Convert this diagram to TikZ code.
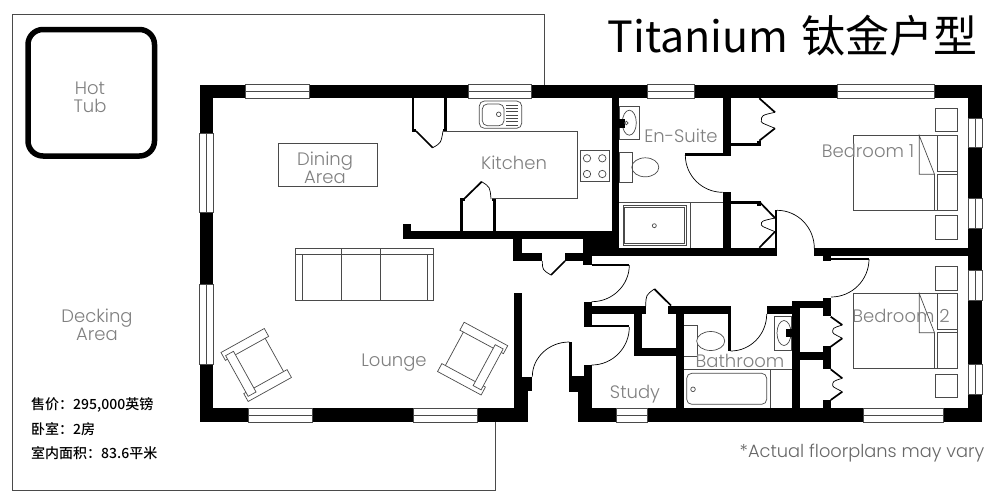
\documentclass[tikz,border=0pt]{standalone}
\usepackage{fontspec}
\setmainfont{Noto Sans CJK SC}
\newfontfamily\lblf{Poppins Light}
\newfontfamily\infof{Noto Sans CJK SC Medium}
\usetikzlibrary{calc}
\definecolor{lblgray}{HTML}{808080}
\definecolor{linegray}{HTML}{4A4A4A}
\tikzset{
  fine/.style={draw=linegray,line width=0.7pt},
  thin line/.style={draw=black,line width=0.7pt},
  heavy/.style={draw=black,line width=1.7pt},
  label text/.style={text=lblgray,font=\lblf\fontsize{18}{18}\selectfont,align=center,inner sep=0pt},
  one line/.style={label text,anchor=base},
  note text/.style={one line,text=lblgray!80!black,font=\lblf\fontsize{17.8}{18}\selectfont},
  info text/.style={text=black,font=\infof\fontsize{14}{14}\selectfont,anchor=base west,inner sep=0pt},
}
% black wall rectangle
\newcommand{\wl}[4]{\fill[black] (#1,#2) rectangle (#3,#4);}
% horizontal window x1 x2 ytop ybot
\newcommand{\hwin}[4]{\fill[white] (#1,#3) rectangle (#2,#4);
  \draw[fine] (#1,#3) rectangle (#2,#4);
  \draw[fine] (#1,{(#3+#4)/2}) -- (#2,{(#3+#4)/2});}
% vertical window y1 y2 xleft xright
\newcommand{\vwin}[4]{\fill[white] (#3,#1) rectangle (#4,#2);
  \draw[fine] (#3,#1) rectangle (#4,#2);
  \draw[fine] ({(#3+#4)/2},#1) -- ({(#3+#4)/2},#2);}
% quarter-circle door swing: start, corner, end
\newcommand{\qarc}[6]{\draw[thin line] (#1,#2) .. controls ($(#1,#2)!0.5523!(#3,#4)$) and ($(#5,#6)!0.5523!(#3,#4)$) .. (#5,#6);}
% bifold wardrobe: x0 x1 and five y values
\newcommand{\bifold}[7]{
  \draw[heavy] (#1,#3) -- (#2,#4);
  \draw[thin line] (#2,#4) .. controls ({#1+2},{#4+3}) .. ({#1+2},#5) .. controls ({#1+2},{#5+1}) .. (#2,#6);
  \draw[heavy] (#2,#6) -- (#1,#7);}
% armchair, local frame
\newcommand{\armchair}[4]{
\begin{scope}[shift={(#1,#2)},rotate=#3,xscale=#4]
  \draw[fine,fill=white] (0,0) rectangle (49.5,9);
  \draw[fine,fill=white] (0,47) rectangle (49.5,56);
  \draw[fine] (45.5,9) -- (45.5,47);
  \draw[fine,fill=white] (2.5,5) rectangle (11.5,51.5);
\end{scope}}
% bed
\newcommand{\bed}[6]{% ytop ymid1 ymid2 ybot stand1 stand2
  \draw[fine] (853.3,#1) rectangle (957.7,#4);
  \draw[fine] (937.3,#1) rectangle (957.7,#2);
  \draw[fine] (937.3,#3) rectangle (957.7,#4);
  \draw[fine] (934.5,#3) -- (934.5,#4);
  \draw[fine] (919.3,#1) -- (919.3,#3) -- (934.5,#3) -- cycle;
  \draw[fine] (935,#5) rectangle (957.7,{#5+23.3});
  \draw[fine] (935,#6) rectangle (957.7,{#6+23.3});
}
\begin{document}
\begin{tikzpicture}[x=1pt,y=-1pt]
\useasboundingbox (0,0) rectangle (1000,501);
\fill[white] (0,0) rectangle (1000,501);

% decking outline
\draw[draw=linegray,line width=1pt] (544,85) -- (544,14) -- (12,14) -- (12,490) -- (495,490) -- (495,422);
% hot tub
\draw[black,line width=5.5pt,rounded corners=15pt] (28,29.5) rectangle (154.5,156);

% outer walls
\wl{199.5}{84.5}{982}{98.3}
\wl{199.5}{84.5}{213}{422.3}
\wl{968}{84.5}{982}{422.3}
\wl{199.5}{408.3}{527.7}{422.3}
\wl{578}{408.3}{982}{422.3}
\wl{514.3}{293.3}{522.3}{408.3}
\wl{514.3}{376.7}{527.7}{422.3}
\wl{522.3}{376.7}{532.3}{391}
% entrance jamb
\wl{569.3}{375.7}{591.7}{391.7}
\wl{578}{375.7}{591.7}{422.3}
\wl{584}{365}{591.7}{422.3}
\wl{569.3}{342}{572}{376}
% kitchen south wall, stub
\wl{402.7}{231}{619.3}{239.3}
\wl{402.7}{224}{411}{239.3}
% closet and central block
\wl{513.3}{231}{522.3}{261}
\wl{513.3}{253.3}{542.3}{261}
\wl{565}{253.3}{591.7}{261}
\wl{583.3}{231}{619.3}{256}
\wl{583.3}{231}{591.7}{265}
\wl{591.7}{263.7}{629.3}{266}
% en-suite walls
\wl{611.7}{98.3}{619.3}{256}
\wl{722.7}{98.3}{730.7}{155.7}
\wl{685.3}{153.3}{730.7}{155.7}
\wl{722.7}{192.3}{730.7}{256}
\wl{583.3}{248}{775.7}{256}
\wl{775}{210}{777.3}{256}
\wl{730.7}{143.3}{761}{145.7}
\wl{757}{140.7}{761}{145.7}
\wl{730.7}{201}{761}{203.5}
\wl{757}{201}{761}{206}
% bedroom divide
\wl{814.3}{248.3}{982}{256}
\wl{823.3}{256}{830.7}{260.5}
\wl{830.7}{258.3}{869}{260}
% hall / study walls
\wl{584}{301.7}{591.7}{327.3}
\wl{591.7}{306}{646}{314}
\wl{591.7}{325}{629.3}{327.3}
\wl{634.3}{306}{642.3}{355.7}
\wl{634.3}{347.7}{675.7}{355.7}
\wl{668.3}{306}{729}{314}
\wl{675.7}{306}{683.7}{408.3}
\wl{727.7}{306}{730.7}{351}
\wl{766.7}{306}{800}{314}
\wl{791.7}{300.7}{800}{408.3}
\wl{791.7}{300.7}{822.7}{308.3}
\wl{822.7}{297.7}{830.7}{316}
\wl{800}{352.3}{822.7}{360}
\wl{822.7}{346}{830.7}{369.3}
\wl{822.7}{400}{830.7}{408.3}
% pantry and kitchen door jambs
\wl{411.7}{98.3}{414.2}{131}
\wl{411.7}{129}{416}{131.5}
\wl{444.3}{98.3}{446.8}{131}
\wl{442.5}{129}{446.8}{131.5}
\wl{460.3}{199}{462.8}{231}
\wl{460.3}{198}{464.5}{200.5}
\wl{493.3}{199}{495.8}{231}
\wl{491.5}{198}{495.8}{200.5}

% windows
\hwin{245}{309.3}{84.5}{98.3}
\hwin{468.7}{531.7}{84.5}{98.3}
\hwin{647.7}{694.7}{84.5}{98.3}
\hwin{837}{934}{84.5}{98.3}
\hwin{248.3}{312}{408.3}{422.3}
\hwin{413.3}{477.3}{408.3}{422.3}
\hwin{616.3}{647}{408.3}{422.3}
\hwin{863.3}{943.7}{408.3}{422.3}
\vwin{133.7}{212.7}{199.5}{213}
\vwin{284.3}{364.3}{199.5}{213}
\vwin{118.3}{147.7}{968}{982}
\vwin{198.3}{228.3}{968}{982}
\vwin{270}{300}{968}{982}
\vwin{364}{394}{968}{982}

% door swings
\qarc{685.3}{155}{685.3}{192.3}{722.7}{192.3}
\qarc{777}{210.3}{814.3}{210.3}{814.3}{248.3}
\qarc{869}{259}{869}{297}{831}{297}
\qarc{629.3}{265}{629.3}{301.7}{591.7}{301.7}
\qarc{629.3}{327}{629.3}{365}{591.7}{365}
\qarc{569.3}{342}{532.3}{342}{532.3}{376.7}
\qarc{730.7}{351}{766.7}{351}{766.7}{314}
% small doors
\draw[heavy] (551,275) -- (565,261);
\draw[thin line] (542.3,261) .. controls (542.5,270) .. (551,275);
\draw[heavy] (654.3,289) -- (671,305.5);
\draw[thin line] (654.3,289) .. controls (646,295) .. (645.7,306);
\draw[heavy] (416,131) -- (432.7,147.7);
\draw[thin line] (432.7,147.7) .. controls (441,143) .. (443,131);
\draw[heavy] (464,199) -- (481.7,181.7);
\draw[thin line] (481.7,181.7) .. controls (490,187) .. (491,199);
% wardrobes
\bifold{759.3}{775}{98.3}{112.3}{121.7}{128.3}{140.7}
\bifold{759.3}{775}{201.7}{218}{225}{231.7}{247.7}
\bifold{830.7}{842.3}{316.7}{325}{332.3}{338.3}{346.7}
\bifold{830.7}{842.3}{369.3}{378.3}{385.7}{391.7}{400}

% kitchen counter, stove, sink
\draw[fine] (443.3,131.3) -- (577.7,131.3) -- (577.7,198.3) -- (491.7,198.3);
\draw[fine] (580,150.7) rectangle (609,181.7);
\foreach \px in {587,602.3}\foreach \py in {158.3,174}{\draw[fine] (\px,\py) circle[radius=3.7pt];}
\draw[fine,rounded corners=5pt] (479.3,101) rectangle (521.7,128.3);
\draw[fine,rounded corners=5pt] (482.3,104) rectangle (504,125.7);
\draw[fine] (498.7,114.3) circle[radius=2.3pt];
\foreach \py in {105,108.3,111.7,115,118.3,121.7,125}{\draw[fine] (506,\py) -- (518.3,\py);}
% dining table
\draw[fine] (278.3,143.7) rectangle (377,186.7);
% sofa
\draw[fine] (295.7,248.3) rectangle (433.7,300);
\draw[fine] (295.7,254.3) -- (433.7,254.3);
\draw[fine] (302.7,254.3) -- (302.7,300);
\draw[fine] (427.7,254.3) -- (427.7,300);
\draw[fine] (341.7,248.3) -- (341.7,300);
\draw[fine] (380.3,248.3) -- (380.3,300);
% armchairs
\armchair{221}{352.5}{29}{1}
\armchair{507.7}{345.7}{-28.3}{-1}

% en-suite fixtures
\draw[fine] (619.3,106) rectangle (639.3,139.3);
\draw[fine] (629.3,122.7) ellipse[x radius=7pt,y radius=12.5pt];
\wl{619.3}{118.5}{624.5}{127.5}
\draw[fine,fill=white] (626.3,123) circle[radius=1.8pt];
\draw[fine] (619.3,152.3) rectangle (632.3,182.3);
\draw[fine] (645.3,167.3) ellipse[x radius=13.5pt,y radius=9.5pt];
\draw[fine] (619.3,202.3) -- (722.7,202.3);
\draw[fine] (690.7,202.3) -- (690.7,248);
\draw[fine] (623.3,205.7) rectangle (686,245);
\draw[fine] (624.8,207.2) rectangle (684.5,243.5);
\draw[fine] (654.3,225.7) circle[radius=2pt];

% bathroom fixtures
\draw[fine] (683.7,325.7) -- (697.3,325.7) -- (697.3,356) -- (683.7,356);
\draw[fine,fill=white] (710.7,341) ellipse[x radius=14pt,y radius=9.5pt];
\draw[fine] (683.7,369.3) -- (791.7,369.3);
\draw[fine,rounded corners=5pt] (686.7,373.3) rectangle (766.7,404.3);
\draw[fine] (693,389.3) circle[radius=2.3pt];
\draw[fine] (770,369.3) -- (770,408.3);
\draw[fine] (774.3,316.7) rectangle (791.7,350);
\draw[fine] (784,333) ellipse[x radius=7pt,y radius=12.5pt];
\wl{786}{329}{791.7}{337}

% beds
\bed{135.7}{171.7}{174.3}{210.7}{108.3}{215.7}
\bed{293.7}{329}{332.7}{368.3}{266.7}{374}

% labels
\node[label text] (hottub) at (90,97) {Hot\\[0pt]Tub};
\node[label text] (deck) at (97,324.5) {Decking\\[0pt]Area};
\node[label text] (dining) at (325,167.5) {Dining\\[0pt]Area};
\node[one line] (kitchen) at (514,169) {Kitchen};
\node[one line] (ensuite) at (681,142.5) {En-Suite};
\node[one line] (bed1) at (868,157.5) {Bedroom 1};
\node[one line] (bed2) at (901,322.5) {Bedroom 2};
\node[one line] (lounge) at (394,366.8) {Lounge};
\node[one line] (bath) at (740,367.5) {Bathroom};
\node[one line] (study) at (635,398.5) {Study};
\node[note text] (vary) at (862,457.3) {*Actual floorplans may vary};
% title
\node[anchor=base east,inner sep=0pt,font=\fontsize{43}{44}\selectfont,text=black] (title) at (977.5,52.5) {Titanium\kern3pt{} {\fontsize{44}{44}\selectfont 钛金户型}};
% info
\node[info text] (price) at (31,409.5) {售价：295,000英镑};
\node[info text] (rooms) at (31,434) {卧室：2房};
\node[info text] (area) at (31,458) {室内面积：83.6平米};
\end{tikzpicture}
\end{document}
